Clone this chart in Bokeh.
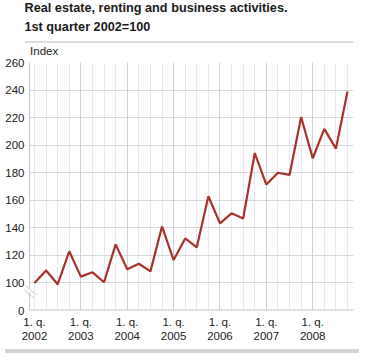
from bokeh.plotting import figure
from bokeh.layouts import column
from bokeh.models import FixedTicker, Label, Grid, Arrow, BoxAnnotation, Range1d, Span, Div
from bokeh.embed import file_html
from bokeh.resources import INLINE

years = [2002, 2003, 2004, 2005, 2006, 2007, 2008]
index_values = [100, 109, 99, 123,
                104.6, 107.7, 100.5, 128,
                110, 113.9, 108.4, 141,
                116.6, 132.3, 125.9, 162.9,
                143.2, 150.5, 146.8, 194.3,
                171.4, 180, 178.4, 220.5,
                190.5, 211.8, 197.5, 239]
y_ticks = [100, 120, 140, 160, 180, 200, 220, 240, 260]
title_lines = ["Real estate, renting and business activities.", "1st quarter 2002=100"]
y_label = "Index"

x = list(range(len(index_values)))
year_pos = [i * 4 for i in range(len(years))]

FONT = "Liberation Sans"
W = 354
H_HEAD = 56
H_MAIN = 288
GRID = "#d9d9e0"
AXIS = "#c4c4cc"

# ---------- header (title, separator, unit label) ----------
hd = figure(width=W, height=H_HEAD, output_backend="svg", toolbar_location=None,
            x_range=Range1d(0, W), y_range=Range1d(H_HEAD, 0),
            min_border_left=0, min_border_right=0, min_border_top=0, min_border_bottom=0)
hd.axis.visible = False
hd.grid.visible = False
hd.outline_line_color = None
hd.add_layout(Label(x=0, y=0, text=title_lines[0], text_font=FONT, text_font_style="bold",
                    text_font_size="12.7px", text_baseline="top", text_color="#1a1a1a"))
hd.add_layout(Label(x=0, y=19, text=title_lines[1], text_font=FONT, text_font_style="bold",
                    text_font_size="12.7px", text_baseline="top", text_color="#1a1a1a"))
hd.line([0, W], [41.5, 41.5], line_color="#b8b8b8", line_width=1)
hd.add_layout(Label(x=6, y=44, text=y_label, text_font=FONT, text_font_size="11.5px",
                    text_baseline="top", text_color="#222222"))

# ---------- main chart ----------
px_unit = (347 - 34) / 27.0
x_start = (24 - 34) / px_unit
axis_x = (29 - 34) / px_unit
x_end = 27 + 6 / px_unit

p = figure(width=W, height=H_MAIN, output_backend="svg", toolbar_location=None,
           x_range=Range1d(x_start, x_end), y_range=Range1d(80, 260),
           min_border_left=24, min_border_right=1, min_border_top=6, min_border_bottom=32)
p.outline_line_color = None

p.xgrid.ticker = FixedTicker(ticks=x)
p.xgrid.grid_line_color = "#e8e8ee"
p.ygrid.ticker = FixedTicker(ticks=y_ticks)
p.ygrid.grid_line_color = GRID
p.add_layout(Grid(dimension=0, ticker=FixedTicker(ticks=year_pos[1:]), grid_line_color="#d2d2da"))

ax = p.yaxis[0]
ax.ticker = FixedTicker(ticks=[80] + y_ticks)
ax.major_label_overrides = {80: "0"}
ax.axis_line_color = None
ax.major_tick_line_color = None
ax.minor_tick_line_color = None
ax.major_tick_out = 0
ax.major_tick_in = 0
ax.major_label_standoff = 0
ax.major_label_text_font = FONT
ax.major_label_text_font_size = "11.5px"
ax.major_label_text_color = "#222222"

bx = p.xaxis[0]
bx.ticker = FixedTicker(ticks=year_pos)
bx.major_label_overrides = {pos: f"1. q.\n{yr}" for pos, yr in zip(year_pos, years)}
bx.axis_line_color = None
bx.major_tick_line_color = None
bx.minor_tick_line_color = None
bx.major_tick_out = 0
bx.major_tick_in = 0
bx.major_label_standoff = 5
bx.major_label_text_font = FONT
bx.major_label_text_font_size = "11.5px"
bx.major_label_text_color = "#222222"

# mask left of the axis, fake axes
p.add_layout(BoxAnnotation(right=axis_x, fill_color="white", fill_alpha=1, line_color=None))
p.add_layout(Span(location=axis_x, dimension="height", line_color=AXIS, line_width=1))
p.segment(x0=[axis_x], y0=[80], x1=[x_end], y1=[80], line_color=AXIS, line_width=2)

p.line(x, index_values, line_color="#a8312a", line_width=2.2)

# axis break symbol
bx0 = axis_x - 0.45
p.add_layout(Arrow(end=None, x_start=bx0 + 0.08, y_start=97.5, x_end=bx0 + 0.88, y_end=91.5,
                   line_color="white", line_width=3))
for dx, dy in [(0.0, 0.0), (0.16, 2.6)]:
    p.add_layout(Arrow(end=None, x_start=bx0 + dx - 0.05, y_start=95.5 + dy, x_end=bx0 + dx + 0.85,
                       y_end=88.8 + dy, line_color=AXIS, line_width=1))

bar = Div(width=W, height=4, styles={"background-color": "#d5d5d5"})

layout = column(hd, p, bar, spacing=0)
open("out.html", "w").write(file_html(layout, INLINE))
